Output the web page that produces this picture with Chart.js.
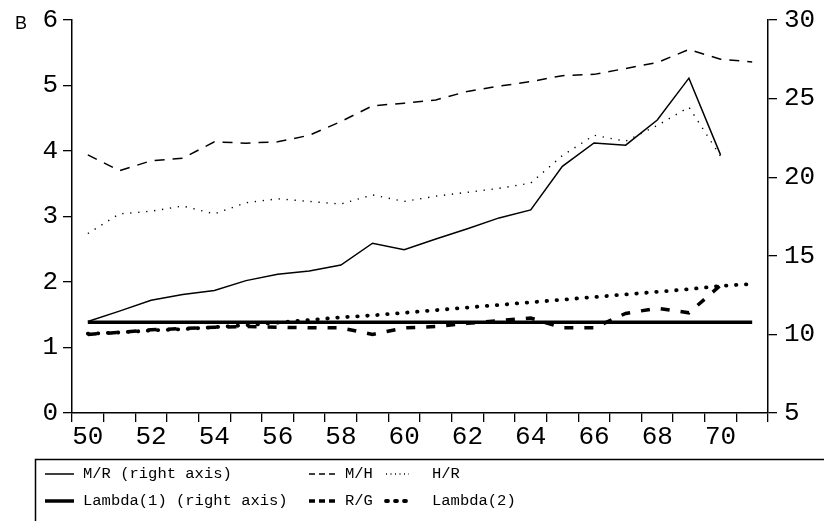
<!DOCTYPE html>
<html>
<head>
<meta charset="utf-8">
<script src="https://cdn.jsdelivr.net/npm/chart.js@4.4.1/dist/chart.umd.min.js"></script>
<style>
  html, body { margin: 0; padding: 0; background: #fff; }
  #wrap { position: relative; width: 824px; height: 521px; }
</style>
</head>
<body>
<div id="wrap"><canvas id="chart"></canvas></div>
<script>
// anos (categorias)
const years = ['50','51','52','53','54','55','56','57','58','59','60','61','62','63','64','65','66','67','68','69','70','71'];

// series
const mrRight = [10.82, 11.48, 12.17, 12.54, 12.79, 13.42, 13.83, 14.04, 14.41, 15.80, 15.39, 16.07, 16.72, 17.41, 17.92, 20.69, 22.18, 22.04, 23.64, 26.30, 21.42, null];
const mh = [3.94, 3.70, 3.85, 3.89, 4.14, 4.12, 4.14, 4.24, 4.45, 4.69, 4.73, 4.78, 4.91, 4.99, 5.06, 5.15, 5.17, 5.26, 5.35, 5.55, 5.40, 5.36];
const hr = [2.74, 3.04, 3.08, 3.16, 3.04, 3.21, 3.27, 3.23, 3.19, 3.33, 3.23, 3.31, 3.37, 3.43, 3.51, 3.93, 4.24, 4.15, 4.39, 4.67, 3.92, null];
const lambda1Right = [10.78, 10.78, 10.78, 10.78, 10.78, 10.78, 10.78, 10.78, 10.78, 10.78, 10.78, 10.78, 10.78, 10.78, 10.78, 10.78, 10.78, 10.78, 10.78, 10.78, 10.78, 10.78];
const rg = [1.20, 1.23, 1.27, 1.29, 1.31, 1.32, 1.31, 1.30, 1.30, 1.20, 1.30, 1.32, 1.37, 1.41, 1.45, 1.30, 1.30, 1.52, 1.60, 1.53, 1.95, null];
const lambda2 = [1.21, 1.23, 1.26, 1.28, 1.31, 1.34, 1.38, 1.42, 1.46, 1.49, 1.53, 1.57, 1.61, 1.65, 1.69, 1.73, 1.77, 1.81, 1.85, 1.89, 1.94, 1.97];

// eixos
const leftTicks = [0, 6, 1];   // min, max, passo
const rightTicks = [5, 30, 5];

const tickFont = { family: 'Liberation Mono', size: 26, lineHeight: 1 };
const legendFont = '15.5px "Liberation Mono"';

// posicao de cada item na legenda (coluna/linha)
const legendSlots = [
    { x0: 45, x1: 74, tx: 83, y: 474 },
    { x0: 309, x1: 338, tx: 345, y: 474 },
    { x0: 386, x1: 409, tx: 432, y: 474 },
    { x0: 45, x1: 74, tx: 83, y: 501 },
    { x0: 309, x1: 338, tx: 345, y: 501 },
    { x0: 386, x1: 409, tx: 432, y: 501 }
];
const legendDash = [[], [6, 4], [1, 3.5], [], [6, 4], [2, 7]];

const customLegend = {
    id: 'customLegend',
    afterDraw(chart) {
        const ctx = chart.ctx;
        ctx.save();
        // letra do painel
        ctx.fillStyle = '#000';
        ctx.font = '18px "Liberation Sans"';
        ctx.textBaseline = 'alphabetic';
        ctx.fillText('B', 15, 29);

        // caixa
        ctx.strokeStyle = '#000';
        ctx.lineWidth = 1.5;
        ctx.strokeRect(35.5, 459.5, 820, 80);

        ctx.font = legendFont;
        ctx.textBaseline = 'middle';
        chart.data.datasets.forEach((ds, i) => {
            const s = legendSlots[i];
            ctx.beginPath();
            ctx.lineWidth = ds.borderWidth;
            ctx.lineCap = ds.borderCapStyle || 'butt';
            ctx.setLineDash(legendDash[i]);
            ctx.moveTo(s.x0, s.y);
            ctx.lineTo(s.x1, s.y);
            ctx.stroke();
            ctx.setLineDash([]);
            ctx.fillText(ds.label, s.tx, s.y);
        });
        ctx.restore();
    }
};

const line = (label, data, axis, width, dash, cap) => ({
    label, data, yAxisID: axis,
    borderColor: '#000', backgroundColor: '#000',
    borderWidth: width, borderDash: dash, borderCapStyle: cap || 'butt',
    pointRadius: 0, tension: 0, spanGaps: false, fill: false
});

new Chart(document.getElementById('chart'), {
    type: 'line',
    data: {
        labels: years,
        datasets: [
            line('M/R (right axis)', mrRight, 'y1', 1.5, []),
            line('M/H', mh, 'y', 1.5, [10, 8]),
            line('H/R', hr, 'y', 1.4, [1.3, 6.7]),
            line('Lambda(1) (right axis)', lambda1Right, 'y1', 3.5, []),
            line('R/G', rg, 'y', 3.5, [9, 11]),
            line('Lambda(2)', lambda2, 'y', 3.8, [0.5, 9.5], 'round')
        ]
    },
    options: {
        responsive: true,
        maintainAspectRatio: false,
        animation: false,
        layout: { padding: { top: 13, left: 0, right: 0, bottom: 0 } },
        plugins: { legend: { display: false }, tooltip: { enabled: false } },
        scales: {
            x: {
                type: 'category',
                offset: true,
                grid: { offset: true, drawOnChartArea: false, drawTicks: true, tickLength: 9, color: '#000', lineWidth: 1.3 },
                border: { display: true, color: '#000', width: 1.5 },
                ticks: {
                    autoSkip: false, maxRotation: 0, minRotation: 0, padding: 2, color: '#000', font: tickFont,
                    callback(value) {
                        const l = this.getLabelForValue(value);
                        return Number(l) % 2 === 0 ? l : '';
                    }
                },
                afterFit(scale) { scale.height = 108; }
            },
            y: {
                position: 'left',
                min: leftTicks[0], max: leftTicks[1],
                grid: { drawOnChartArea: false, drawTicks: true, tickLength: 9, color: '#000', lineWidth: 1.3 },
                border: { display: true, color: '#000', width: 1.5 },
                ticks: { stepSize: leftTicks[2], padding: 5, color: '#000', font: tickFont },
                afterFit(scale) { scale.width = 72; }
            },
            y1: {
                position: 'right',
                min: rightTicks[0], max: rightTicks[1],
                grid: { drawOnChartArea: false, drawTicks: true, tickLength: 9, color: '#000', lineWidth: 1.3 },
                border: { display: true, color: '#000', width: 1.5 },
                ticks: { stepSize: rightTicks[2], padding: 7, color: '#000', font: tickFont },
                afterFit(scale) { scale.width = 56; }
            }
        }
    },
    plugins: [customLegend]
});
</script>
</body>
</html>
